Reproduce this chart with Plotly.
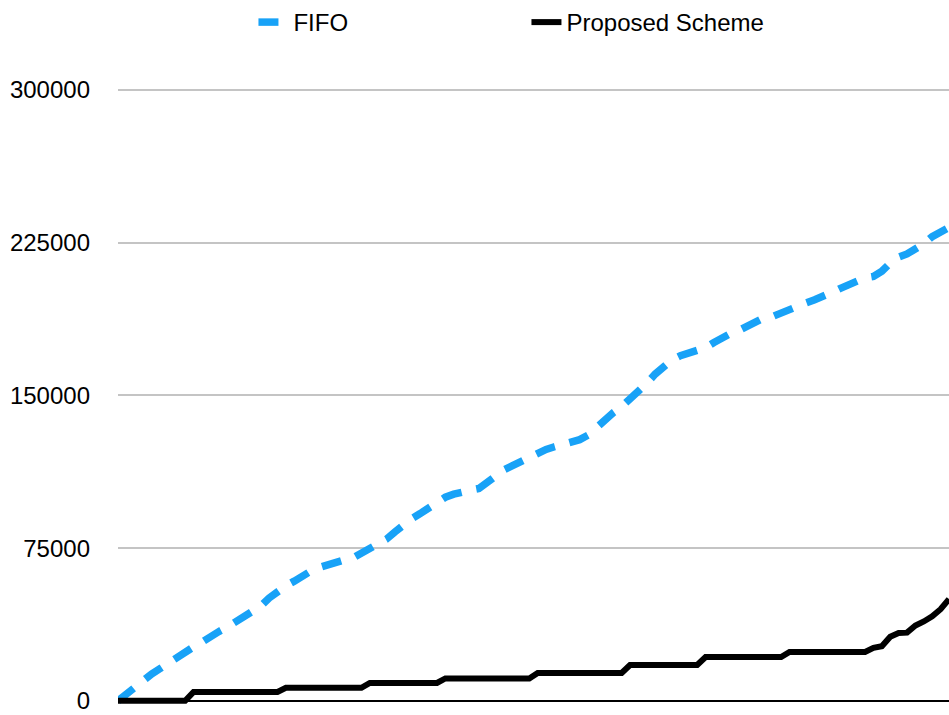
import plotly.graph_objects as go

# Sample index (one point per time step)
steps = list(range(100))

# Cumulative waiting time, FIFO queueing
fifo = [
    0, 3500, 7000, 10500, 13200, 15800, 18600, 21800, 24500, 26500,
    28800, 31800, 34000, 36200, 38800, 41800, 43800, 46500, 50500, 54000,
    56500, 58800, 61500, 63800, 65500, 67000, 68300, 69300, 70200, 72500,
    75200, 76800, 79500, 83000, 86500, 89500, 92000, 95000, 98000, 100000,
    101500, 102800, 103500, 104300, 107500, 111000, 113500, 115500, 117500, 120000,
    122000, 123500, 124800, 126000, 127500, 128300, 130500, 134500, 138500, 141500,
    144500, 148000, 151500, 156000, 160500, 164500, 167500, 169500, 171000, 172300,
    173500, 176000, 178500, 180500, 182000, 184000, 186500, 188200, 188800, 190500,
    193000, 194500, 195500, 197000, 198500, 200500, 202500, 204500, 206500, 207800,
    208500, 211000, 215000, 218000, 219500, 221500, 224500, 228000, 230500, 232500,
]

# Cumulative waiting time, proposed scheme
proposed = [
    0, 0, 0, 0, 0, 0, 0, 0, 0, 4400,
    4400, 4400, 4400, 4400, 4400, 4400, 4400, 4400, 4400, 4400,
    6400, 6400, 6400, 6400, 6400, 6400, 6400, 6400, 6400, 6400,
    8800, 8800, 8800, 8800, 8800, 8800, 8800, 8800, 8800, 11000,
    11000, 11000, 11000, 11000, 11000, 11000, 11000, 11000, 11000, 11000,
    13700, 13700, 13700, 13700, 13700, 13700, 13700, 13700, 13700, 13700,
    13700, 17600, 17600, 17600, 17600, 17600, 17600, 17600, 17600, 17600,
    21500, 21500, 21500, 21500, 21500, 21500, 21500, 21500, 21500, 21500,
    24000, 24000, 24000, 24000, 24000, 24000, 24000, 24000, 24000, 24000,
    26000, 26800, 31500, 33300, 33500, 37000, 39000, 41500, 45000, 50000,
]

y_ticks = [0, 75000, 150000, 225000, 300000]

FONT = "Liberation Sans, Arial, Helvetica, sans-serif"

fig = go.Figure()
fig.add_trace(go.Scatter(
    x=steps, y=fifo, mode="lines", name="FIFO",
    line=dict(color="#18A2F7", width=7.5, dash="20px,15px"),
))
fig.add_trace(go.Scatter(
    x=steps, y=proposed, mode="lines", name="Proposed Scheme",
    line=dict(color="#000000", width=6),
))

fig.update_layout(
    width=949, height=715,
    margin=dict(l=118, r=0, t=86, b=6),
    paper_bgcolor="white", plot_bgcolor="white",
    font=dict(family=FONT, size=24, color="black"),
    showlegend=True,
    legend=dict(
        orientation="h", x=0.163, xanchor="left", y=1.106, yanchor="middle",
        font=dict(family=FONT, size=24, color="black"),
        entrywidth=228, entrywidthmode="pixels",
        bgcolor="rgba(0,0,0,0)",
    ),
    xaxis=dict(
        range=[0, 99], showgrid=False, showticklabels=False, ticks="",
        zeroline=False, showline=False,
    ),
    yaxis=dict(
        range=[-4000, 301000], tickvals=y_ticks,
        ticktext=[str(v) for v in y_ticks],
        showgrid=True, gridcolor="#C4C4C4", gridwidth=1.5,
        zeroline=True, zerolinecolor="black", zerolinewidth=2,
        showline=False, ticks="", ticklabelstandoff=27,
        tickfont=dict(family=FONT, size=24, color="black"),
    ),
)

fig.write_html("out.html")
